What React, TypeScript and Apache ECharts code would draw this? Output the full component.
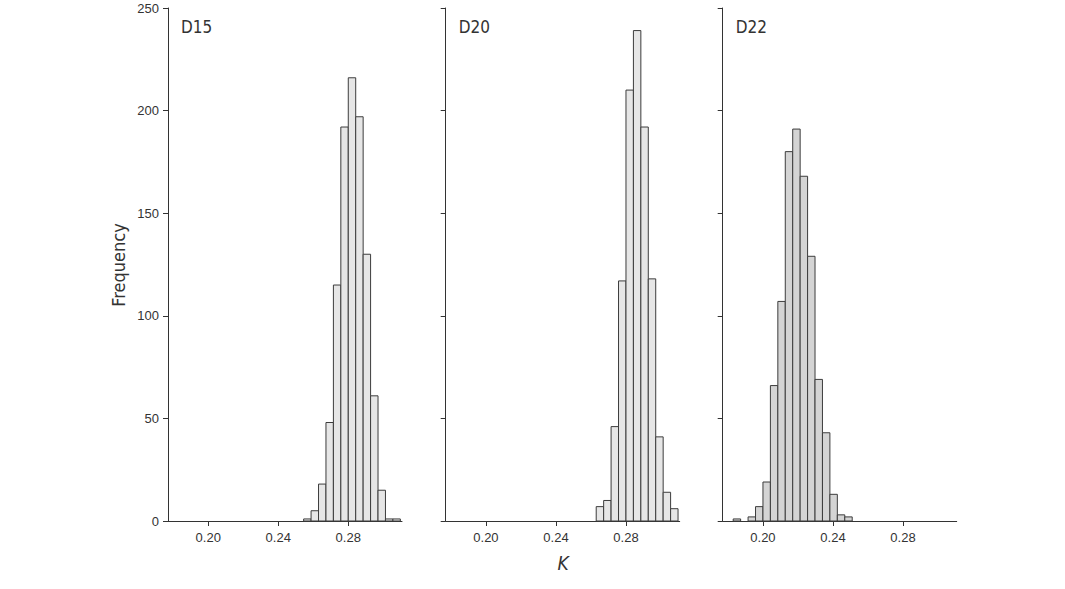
import React, { useEffect, useRef } from "react";
import * as echarts from "echarts";

// Histogram data: bin width (K units), first bin left edge, and counts per bin
const binWidth = 0.00425;
const panelNames = ["D15", "D20", "D22"];
const binStarts = [0.2545, 0.263, 0.183];
const d15Counts = [1, 5, 18, 48, 115, 192, 216, 197, 130, 61, 15, 1, 1];
const d20Counts = [7, 10, 46, 117, 210, 239, 192, 118, 41, 14, 6];
const d22Counts = [1, 0, 2, 7, 19, 66, 107, 180, 191, 168, 129, 69, 43, 13, 3, 2];
const xTicks = [0.2, 0.24, 0.28];
const fills = ["#e6e6e6", "#e6e6e6", "#d4d4d4"];

const FONT = "'DejaVu Sans Condensed', 'Liberation Sans', Arial, sans-serif";
const FONT2 = "'Liberation Sans', Arial, sans-serif";

export default function App() {
  const ref = useRef<HTMLDivElement>(null);
  useEffect(() => {
    if (!ref.current) return;
    const chart = echarts.init(ref.current, null, { renderer: "svg" });
    const counts = [d15Counts, d20Counts, d22Counts];
    const lefts = [168, 445.7, 722.7];
    const gridW = 234;
    const grids = lefts.map((l) => ({ left: l, top: 8, width: gridW, height: 513 }));
    const xAxes = lefts.map((_, i) => ({
      type: "value",
      gridIndex: i,
      min: 0.177,
      max: 0.3107,
      splitLine: { show: false },
      axisLine: { show: true, lineStyle: { color: "#333", width: 1 } },
      axisTick: { show: true, customValues: xTicks, length: 5, lineStyle: { color: "#333" } },
      axisLabel: {
        customValues: xTicks,
        formatter: (v: number) => v.toFixed(2),
        color: "#333",
        fontSize: 13,
        fontFamily: FONT2,
        margin: 10,
      },
    }));
    const yAxes = lefts.map((_, i) => ({
      type: "value",
      gridIndex: i,
      min: 0,
      max: 250,
      interval: 50,
      splitLine: { show: false },
      axisLine: { show: true, lineStyle: { color: "#333", width: 1 } },
      axisTick: { show: true, length: 5, lineStyle: { color: "#333" } },
      axisLabel: {
        show: i === 0,
        color: "#333",
        fontSize: 13,
        fontFamily: FONT2,
        margin: 9,
      },
    }));
    const series = counts.map((c, i) => ({
      type: "custom",
      xAxisIndex: i,
      yAxisIndex: i,
      data: c.map((v, k) => [binStarts[i] + k * binWidth, binStarts[i] + (k + 1) * binWidth, v]),
      renderItem: (params: any, api: any) => {
        const x0 = api.value(0);
        const x1 = api.value(1);
        const v = api.value(2);
        if (!v) return null;
        const p0 = api.coord([x0, v]);
        const p1 = api.coord([x1, 0]);
        return {
          type: "rect",
          shape: { x: p0[0], y: p0[1], width: p1[0] - p0[0], height: p1[1] - p0[1] },
          style: { fill: fills[i], stroke: "#3c3c3c", lineWidth: 1 },
        };
      },
    }));
    chart.setOption({
      animation: false,
      backgroundColor: "#fff",
      grid: grids,
      xAxis: xAxes,
      yAxis: yAxes,
      series,
      graphic: [
        ...panelNames.map((n, i) => ({
          type: "text",
          left: lefts[i] + 13,
          top: 18,
          style: { text: n, fontSize: 17, fontFamily: FONT, fill: "#333" },
        })),
        {
          type: "text",
          x: 118,
          y: 265,
          rotation: Math.PI / 2,
          style: {
            text: "Frequency",
            fontSize: 18,
            fontFamily: FONT,
            fill: "#333",
            align: "center",
            verticalAlign: "middle",
          },
        },
        {
          type: "text",
          x: 563,
          y: 563,
          style: {
            text: "K",
            fontSize: 19,
            fontStyle: "italic",
            fontFamily: FONT,
            fill: "#333",
            align: "center",
            verticalAlign: "middle",
          },
        },
      ],
    });
    return () => chart.dispose();
  }, []);
  return (
    <div
      ref={ref}
      style={{ position: "fixed", left: 0, top: 0, width: 1065, height: 589, background: "#fff" }}
    />
  );
}
